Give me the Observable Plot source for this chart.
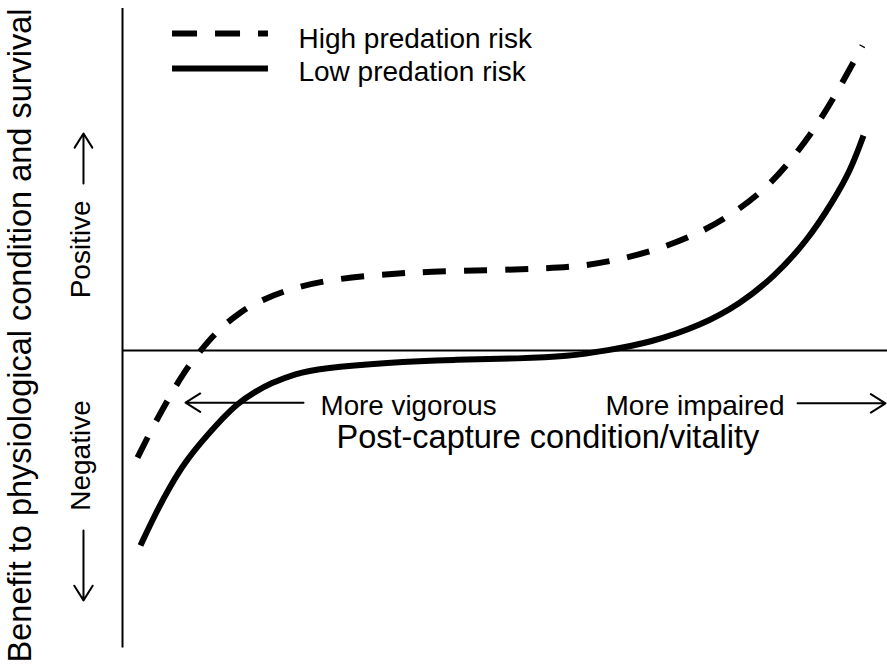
<!DOCTYPE html>
<html>
<head>
<meta charset="utf-8">
<script src="https://cdn.jsdelivr.net/npm/d3@7"></script>
<script src="https://cdn.jsdelivr.net/npm/@observablehq/plot@0.6"></script>
<style>
  html, body { margin: 0; padding: 0; background: #fff; }
  #chart svg { display: block; overflow: visible; }
</style>
</head>
<body>
<div id="chart"></div>
<script>
// Series: benefit vs post-capture condition (0 = vigorous, 100 = impaired)
const highX = [1.96,3.92,5.88,7.97,10.2,12.42,15.42,18.04,21.96,27.19,33.73,40.26,48.10,54.64,59.87,65.1,70.33,75.56,79.87,84.31,87.71,91.24,94.25,96.73];
const highY = [-3.06,-2.2,-1.43,-0.63,0,0.57,1.11,1.43,1.77,2.03,2.17,2.26,2.29,2.34,2.4,2.6,2.91,3.37,3.91,4.66,5.51,6.57,7.71,8.71];
const lowX = [2.35,4.31,6.27,8.24,10.59,12.81,15.03,17.39,19.35,22.61,25.88,34.64,43.27,52.03,58.17,63.4,69.02,75.56,80.78,85.1,89.54,92.94,95.16,96.86];
const lowY = [-5.57,-4.66,-3.86,-3.17,-2.54,-2.0,-1.51,-1.17,-0.94,-0.66,-0.51,-0.34,-0.26,-0.23,-0.17,0,0.23,0.71,1.34,2.09,3.14,4.29,5.14,6.14];

const seriesNames = ["High predation risk", "Low predation risk"];
const directionLabels = ["More vigorous", "More impaired"];
const xTitle = "Post-capture condition/vitality";
const yTitle = "Benefit to physiological condition and survival";
const ySides = ["Positive", "Negative"];

const high = highX.map((x, i) => ({x, y: highY[i]}));
const low = lowX.map((x, i) => ({x, y: lowY[i]}));

const font = "Liberation Sans, Arial, Helvetica, sans-serif";

const chart = Plot.plot({
  width: 887,
  height: 665,
  marginLeft: 122,
  marginRight: 0,
  marginTop: 0,
  marginBottom: 0,
  x: {domain: [0, 100], axis: null},
  y: {domain: [-9, 10], axis: null},
  style: {fontFamily: font, background: "#fff", color: "#000", overflow: "visible"},
  marks: [
    // axes
    Plot.ruleX([0], {y1: -8.5, y2: 9.77, stroke: "#000", strokeWidth: 2}),
    Plot.ruleY([0], {x1: 0, x2: 100, stroke: "#000", strokeWidth: 2}),
    // curves
    Plot.line(high, {x: "x", y: "y", curve: "basis", stroke: "#000", strokeWidth: 6, strokeDasharray: "23,18", strokeLinecap: "butt"}),
    Plot.line(low, {x: "x", y: "y", curve: "basis", stroke: "#000", strokeWidth: 6, strokeLinecap: "butt"}),
    // legend
    Plot.ruleY([9.06], {x1: 6.54, x2: 19.08, stroke: "#000", strokeWidth: 6, strokeDasharray: "25,18"}),
    Plot.ruleY([8.06], {x1: 6.54, x2: 19.08, stroke: "#000", strokeWidth: 6}),
    Plot.text([seriesNames[0]], {x: 23.0, y: 8.91, text: d => d, textAnchor: "start", fontSize: 28, fill: "#000", fontFamily: font}),
    Plot.text([seriesNames[1]], {x: 23.0, y: 7.97, text: d => d, textAnchor: "start", fontSize: 28, fill: "#000", fontFamily: font}),
    // direction labels and arrows
    Plot.text([directionLabels[0]], {x: 25.88, y: -1.6, text: d => d, textAnchor: "start", fontSize: 27.8, fill: "#000", fontFamily: font}),
    Plot.text([directionLabels[1]], {x: 63.14, y: -1.6, text: d => d, textAnchor: "start", fontSize: 28, fill: "#000", fontFamily: font}),
    Plot.arrow([0], {x1: 23.66, y1: -1.49, x2: 8.24, y2: -1.49, stroke: "#000", strokeWidth: 2, headLength: 13, headAngle: 64}),
    Plot.arrow([0], {x1: 88.24, y1: -1.51, x2: 99.74, y2: -1.51, stroke: "#000", strokeWidth: 2, headLength: 13, headAngle: 64}),
    Plot.text([xTitle], {x: 55.6, y: -2.5, text: d => d, textAnchor: "middle", fontSize: 32.5, fill: "#000", fontFamily: font}),
    // y-side labels
    Plot.text([yTitle], {x: -13.3, y: 0.43, text: d => d, rotate: -90, textAnchor: "middle", fontSize: 32.5, fill: "#000", fontFamily: font}),
    Plot.text([ySides[0]], {x: -5.36, y: 2.89, text: d => d, rotate: -90, textAnchor: "middle", fontSize: 28, fill: "#000", fontFamily: font}),
    Plot.text([ySides[1]], {x: -5.36, y: -3.0, text: d => d, rotate: -90, textAnchor: "middle", fontSize: 28, fill: "#000", fontFamily: font}),
    Plot.arrow([0], {x1: -5.1, y1: 4.77, x2: -5.1, y2: 6.2, stroke: "#000", strokeWidth: 2, headLength: 13, headAngle: 64}),
    Plot.arrow([0], {x1: -5.1, y1: -5.14, x2: -5.1, y2: -7.14, stroke: "#000", strokeWidth: 2, headLength: 13, headAngle: 64})
  ]
});
document.getElementById("chart").appendChild(chart);
</script>
</body>
</html>
